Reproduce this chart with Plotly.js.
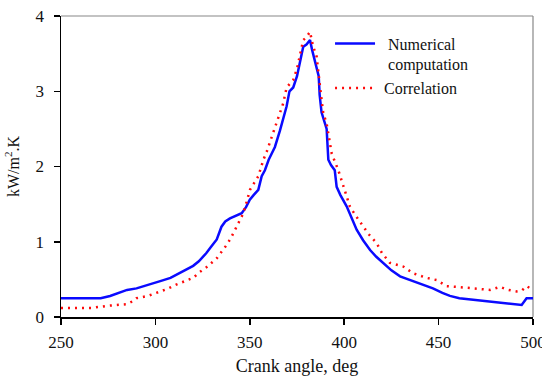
<!DOCTYPE html>
<html><head><meta charset="utf-8">
<script src="https://cdn.plot.ly/plotly-3.0.1.min.js"></script>
<style>html,body{margin:0;padding:0;background:#fff}#c{width:542px;height:376px}</style>
</head><body><div id="c"></div>
<script>
const numX = [250,271,276,280,285,290,297,303,308,311,316,320,323,327,330,332.5,335,337,339.5,342,345.7,348,350,352,354.5,356.3,358,360,363.3,366,368,369.5,371,373,375,376.6,378.3,380,381.9,383,385,386.5,387,388,390.7,391.6,393,395,396,398,401.3,404,406.6,410,413.7,417,420.7,425,429.6,435,440,447,452,456,461,472,480.8,491.4,494,496.6,500];
const numY = [0.25,0.25,0.28,0.32,0.36,0.38,0.43,0.48,0.52,0.56,0.62,0.68,0.74,0.85,0.95,1.03,1.20,1.27,1.31,1.34,1.38,1.46,1.56,1.62,1.69,1.87,1.95,2.09,2.26,2.48,2.65,2.80,3.0,3.05,3.2,3.37,3.59,3.62,3.68,3.55,3.35,3.2,2.95,2.72,2.50,2.09,2.02,1.95,1.73,1.62,1.47,1.30,1.16,1.02,0.89,0.80,0.72,0.62,0.54,0.49,0.45,0.38,0.32,0.28,0.25,0.22,0.19,0.16,0.16,0.25,0.25];
const corX = [250,262,266,275,284.8,288,290,296,302,306,311,316,320,323.6,327,332.5,335,337.8,340,343.1,346.6,348,350.1,354.5,357.2,359,360.7,363,365.1,367.7,369.5,373,375,376.6,378.3,380,381.9,383.5,385.4,387.2,388.9,390.7,392,393.4,396.9,399.5,403,406,410.1,413,417.2,420,424.2,431.3,436.6,443.7,449,454.3,460,468.4,477.2,482.5,487,491.4,494,496.6,500];
const corY = [0.12,0.12,0.12,0.15,0.17,0.21,0.25,0.28,0.33,0.37,0.43,0.48,0.52,0.60,0.66,0.78,0.86,0.96,1.05,1.20,1.38,1.50,1.69,1.87,2.09,2.2,2.33,2.48,2.64,2.84,3.05,3.15,3.3,3.5,3.68,3.72,3.79,3.6,3.46,3.06,2.71,2.57,2.35,2.17,1.95,1.75,1.47,1.35,1.20,1.10,0.98,0.85,0.72,0.67,0.58,0.52,0.49,0.41,0.40,0.38,0.36,0.40,0.36,0.34,0.35,0.41,0.36];
const xTicks = [250,300,350,400,450,500];
const yTicks = [0,1,2,3,4];
const seriesNames = ["\u00a0\u00a0Numerical<br>\u00a0\u00a0computation","\u00a0Correlation"];

const font = {family:"Liberation Serif, Times New Roman, serif", color:"#111"};
const traces = [
  {x:numX, y:numY, name:seriesNames[0], mode:"lines", line:{color:"#0a0aff", width:2.5}},
  {x:corX, y:corY, name:seriesNames[1], mode:"lines", line:{color:"#ff0a0a", width:2.5, dash:"2px,5px"}}
];
const layout = {
  width:542, height:376,
  margin:{l:61, r:9, t:16, b:59},
  paper_bgcolor:"#fff", plot_bgcolor:"#fff",
  font:Object.assign({size:17}, font),
  showlegend:true,
  legend:{x:0.57, y:0.965, xanchor:"left", yanchor:"top", valign:"top", bgcolor:"rgba(0,0,0,0)", font:Object.assign({size:16}, font), itemwidth:40, tracegroupgap:0},
  xaxis:{range:[250,500], tickvals:xTicks, ticktext:xTicks.map(String), showgrid:false, zeroline:false,
    showline:true, linecolor:"#000", linewidth:1.5, ticks:"outside", ticklen:6, tickwidth:1.5, tickcolor:"#000",
    ticklabelstandoff:3, ticklabeloverflow:"allow",
    tickfont:Object.assign({size:17}, font),
    title:{text:"Crank angle, deg", font:Object.assign({size:18}, font), standoff:8}},
  yaxis:{range:[0,4], tickvals:yTicks, ticktext:yTicks.map(String), showgrid:false, zeroline:false,
    showline:true, linecolor:"#000", linewidth:1.5, ticks:"outside", ticklen:6, tickwidth:1.5, tickcolor:"#000",
    ticklabelstandoff:6,
    tickfont:Object.assign({size:17}, font),
    title:{text:"kW/m<sup>2</sup>.K", font:Object.assign({size:16}, font), standoff:12}},
  shapes:[
    {type:"line", xref:"paper", yref:"paper", x0:0, x1:1, y0:1, y1:1, line:{color:"#888", width:1.2}, layer:"below"},
    {type:"line", xref:"paper", yref:"paper", x0:1, x1:1, y0:0, y1:1, line:{color:"#888", width:1.2}, layer:"below"}
  ]
};
Plotly.newPlot("c", traces, layout, {displayModeBar:false, staticPlot:true});
</script></body></html>
